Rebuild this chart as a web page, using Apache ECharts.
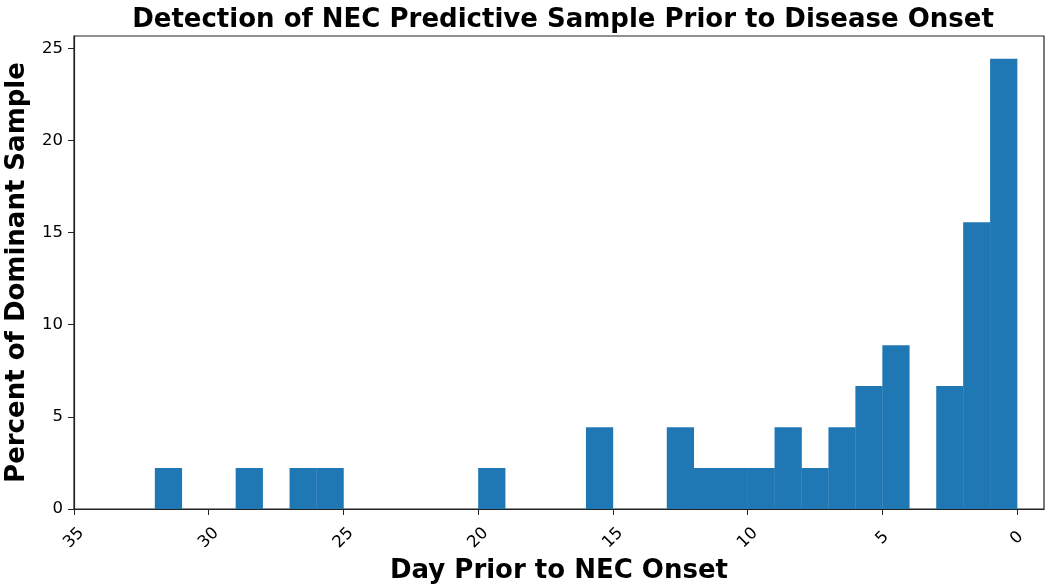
<!DOCTYPE html>
<html>
<head>
<meta charset="utf-8">
<script src="https://cdn.jsdelivr.net/npm/echarts@6/dist/echarts.min.js"></script>
<style>html,body{margin:0;padding:0;background:#fff}#c{width:1050px;height:588px}</style>
</head>
<body>
<div id="c"></div>
<script>
// Histogram bins: day prior to onset (bin start, bin end) and percent of samples
const binStart = [31, 28, 26, 25, 19, 15, 12, 11, 10, 9, 8, 7, 6, 5, 4, 2, 1, 0];
const binEnd   = [32, 29, 27, 26, 20, 16, 13, 12, 11, 10, 9, 8, 7, 6, 5, 3, 2, 1];
const percent  = [2.22, 2.22, 2.22, 2.22, 2.22, 4.44, 4.44, 2.22, 2.22, 2.22, 4.44, 2.22, 4.44, 6.67, 8.89, 6.67, 15.56, 24.44];
const xTicks = [35, 30, 25, 20, 15, 10, 5, 0];
const yTicks = [0, 5, 10, 15, 20, 25];

const chart = echarts.init(document.getElementById('c'), null, {renderer: 'canvas'});
const font = 'DejaVu Sans';
const data = binStart.map((s, i) => [s, binEnd[i], percent[i]]);

chart.setOption({
  animation: false,
  backgroundColor: '#fff',
  title: {
    text: 'Detection of NEC Predictive Sample Prior to Disease Onset',
    left: 558, textAlign: 'center', top: 2,
    textStyle: {fontFamily: font, fontWeight: 'bold', fontSize: 26, color: '#000'}
  },
  grid: {left: 74, right: 6, top: 36, bottom: 79, show: true, borderColor: '#222', borderWidth: 1.2, containLabel: false, outerBoundsMode: 'none'},
  xAxis: {
    type: 'value', min: -1, max: 35, inverse: true,
    name: 'Day Prior to NEC Onset', nameLocation: 'middle', nameGap: 49,
    nameTextStyle: {fontFamily: font, fontWeight: 'bold', fontSize: 26, color: '#000'},
    axisLine: {show: true, onZero: false, lineStyle: {color: '#222', width: 1.2}},
    axisTick: {show: true, inside: false, length: 6, customValues: xTicks, lineStyle: {color: '#222'}},
    axisLabel: {customValues: xTicks, rotate: 45, align: 'center', verticalAlign: 'middle', fontFamily: font, fontSize: 16.5, color: '#000', margin: 29},
    splitLine: {show: false}
  },
  yAxis: {
    type: 'value', min: 0, max: 25.67, interval: 5,
    name: 'Percent of Dominant Sample', nameLocation: 'middle', nameGap: 44,
    nameTextStyle: {fontFamily: font, fontWeight: 'bold', fontSize: 26, color: '#000'},
    axisLine: {show: true, onZero: false, lineStyle: {color: '#222', width: 1.2}},
    axisTick: {show: true, length: 6, customValues: yTicks, lineStyle: {color: '#222'}},
    axisLabel: {customValues: yTicks, fontFamily: font, fontSize: 16.5, color: '#000', margin: 11},
    splitLine: {show: false}
  },
  series: [{
    type: 'custom',
    data: data,
    encode: {x: [0, 1], y: 2},
    renderItem: function (params, api) {
      const p1 = api.coord([api.value(0), api.value(2)]);
      const p2 = api.coord([api.value(1), 0]);
      const x = Math.min(p1[0], p2[0]);
      const w = Math.abs(p2[0] - p1[0]);
      return {
        type: 'rect',
        shape: {x: x, y: p1[1], width: w + 0.3, height: p2[1] - p1[1]},
        style: {fill: '#1f77b4'}
      };
    }
  }]
});
</script>
</body>
</html>
